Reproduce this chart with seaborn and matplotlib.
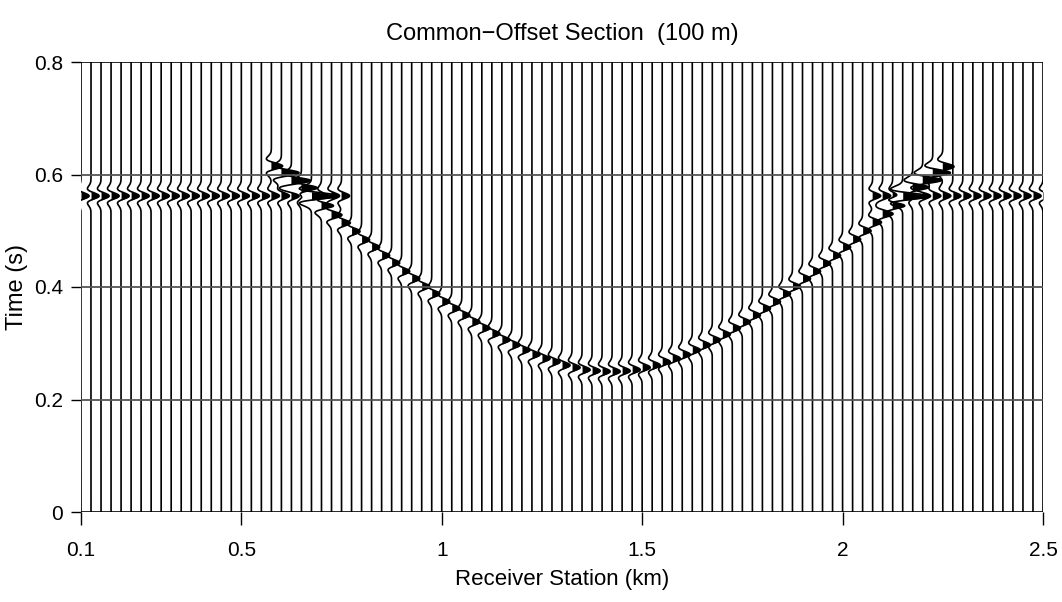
import numpy as np
import pandas as pd
import matplotlib
matplotlib.use("Agg")
import matplotlib.pyplot as plt
import seaborn as sns

# ---------------- data ----------------
stations_km = np.round(np.arange(0.1, 2.5 + 1e-9, 0.025), 3)   # 97 receiver stations

reflector_time_s = 0.562
reflector_segments_km = [(0.1, 0.75), (2.075, 2.5)]
reflector_amp = 1.0

diffr_stations_km = np.round(np.arange(0.575, 2.25 + 1e-9, 0.025), 3)  # 68 stations
diffr_time_s = [
    0.615, 0.603, 0.589, 0.576, 0.562, 0.545, 0.528, 0.514, 0.499, 0.484,
    0.471, 0.456, 0.443, 0.428, 0.415, 0.401, 0.388, 0.374, 0.362, 0.350,
    0.338, 0.327, 0.317, 0.306, 0.297, 0.288, 0.280, 0.273, 0.267, 0.261,
    0.257, 0.253, 0.251, 0.250, 0.250, 0.251, 0.253, 0.257, 0.261, 0.267,
    0.273, 0.280, 0.288, 0.297, 0.306, 0.316, 0.327, 0.338, 0.350, 0.362,
    0.374, 0.388, 0.401, 0.415, 0.428, 0.442, 0.456, 0.471, 0.485, 0.500,
    0.515, 0.530, 0.545, 0.561, 0.577, 0.590, 0.603, 0.614,
]
diffr_amp = [
    1.4, 2.2, 2.4, 2.4, 2.4, 1.8, 1.3, 1.1, 1.05, 1.0,
    1.0, 1.0, 1.0, 1.0, 1.0, 1.0, 1.0, 1.0, 1.0, 1.0,
    1.0, 1.0, 1.0, 1.0, 1.0, 1.0, 1.0, 1.0, 1.0, 1.0,
    1.0, 1.0, 1.0, 1.0, 1.0, 1.0, 1.0, 1.0, 1.0, 1.0,
    1.0, 1.0, 1.0, 1.0, 1.0, 1.0, 1.0, 1.0, 1.0, 1.0,
    1.0, 1.0, 1.0, 1.0, 1.0, 1.0, 1.0, 1.0, 1.0, 1.05,
    1.1, 1.3, 1.8, 2.4, 2.4, 2.4, 2.2, 1.4,
]

x_ticks = [0.1, 0.5, 1, 1.5, 2, 2.5]
x_tick_labels = ["0.1", "0.5", "1", "1.5", "2", "2.5"]
y_ticks = [0, 0.2, 0.4, 0.6, 0.8]
y_tick_labels = ["0", "0.2", "0.4", "0.6", "0.8"]
title = "Common\u2212Offset Section  (100 m)"
xlabel = "Receiver Station (km)"
ylabel = "Time (s)"

# ---------------- build wiggle traces ----------------
peak_freq = 30.0
gain_km = 0.02
t = np.linspace(0, 0.8, 1601)


def ricker(tt):
    a = (np.pi * peak_freq * tt) ** 2
    return (1 - 2 * a) * np.exp(-a)


rows = []
traces = {}
diffr_lookup = {s: (tt, aa) for s, tt, aa in zip(diffr_stations_km, diffr_time_s, diffr_amp)}
for s in stations_km:
    w = np.zeros_like(t)
    for lo, hi in reflector_segments_km:
        if lo - 1e-9 <= s <= hi + 1e-9:
            w += reflector_amp * ricker(t - reflector_time_s)
    if s in diffr_lookup:
        tt, aa = diffr_lookup[s]
        w += aa * ricker(t - tt)
    traces[s] = w
    rows.append(pd.DataFrame({"station": s, "time": t, "x": s + gain_km * w}))
df = pd.concat(rows, ignore_index=True)

sns.set_theme(style="white")
plt.rcParams["font.family"] = ["Liberation Sans", "DejaVu Sans"]
plt.rcParams.update({"text.color": "black", "axes.labelcolor": "black",
                     "xtick.color": "black", "ytick.color": "black"})

fig = plt.figure(figsize=(10.62, 6.02), dpi=100)
ax = fig.add_axes([81 / 1062, 1 - 512 / 602, (1043 - 81) / 1062, (512 - 62) / 602])

sns.lineplot(data=df, x="x", y="time", units="station", estimator=None,
             sort=False, orient="y", color="black", lw=1.2, ax=ax, legend=False)
for s, w in traces.items():
    ax.fill_betweenx(t, s, s + gain_km * w, where=w > 0, color="black", lw=0,
                     interpolate=True)

for yv in [0.2, 0.4, 0.6]:
    ax.axhline(yv, color="#555555", lw=1.3, zorder=5)
for yv in [0.0, 0.8]:
    ax.axhline(yv, color="black", lw=1.2, zorder=5)

ax.set_xlim(0.1, 2.5)
ax.set_ylim(0, 0.8)
for sp in ax.spines.values():
    sp.set_visible(False)
ax.set_xticks(x_ticks)
ax.set_xticklabels(x_tick_labels)
ax.set_yticks(y_ticks)
ax.set_yticklabels(y_tick_labels)
ax.tick_params(axis="x", direction="out", length=9, width=1, color="black",
               bottom=True, labelsize=15, pad=12, labelcolor="black")
ax.tick_params(axis="y", direction="out", length=7, width=1, color="black",
               left=True, labelsize=15, pad=6, labelcolor="black")
ax.grid(False)
ax.set_title(title, fontsize=17, pad=16, color="black")
ax.set_xlabel(xlabel, fontsize=16, labelpad=6, color="black")
ax.set_ylabel(ylabel, fontsize=17, labelpad=4, color="black")

fig.savefig("out.png", dpi=100)
